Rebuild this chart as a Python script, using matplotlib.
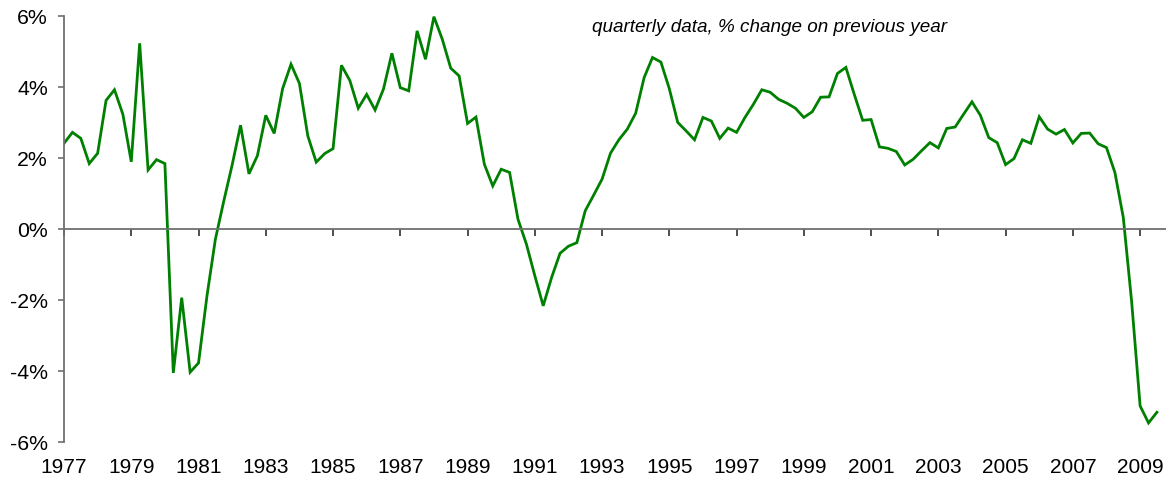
import numpy as np
import matplotlib
matplotlib.use("Agg")
import matplotlib.pyplot as plt

# quarterly data, % change on previous year, 1977Q1 .. 2009Q3
start_year = 1977
growth = [2.41, 2.72, 2.55, 1.84, 2.13, 3.62, 3.92, 3.23, 1.89, 5.23,
          1.66, 1.95, 1.84, -4.06, -1.94, -4.04, -3.78, -1.90, -0.30, 0.78,
          1.80, 2.92, 1.55, 2.06, 3.20, 2.69, 3.95, 4.64, 4.10, 2.62,
          1.88, 2.12, 2.26, 4.61, 4.18, 3.40, 3.79, 3.35, 3.94, 4.95,
          3.98, 3.89, 5.58, 4.78, 5.98, 5.34, 4.53, 4.31, 2.97, 3.15,
          1.82, 1.21, 1.68, 1.59, 0.27, -0.43, -1.32, -2.17, -1.37, -0.69,
          -0.49, -0.39, 0.51, 0.95, 1.40, 2.13, 2.51, 2.81, 3.26, 4.26,
          4.83, 4.70, 3.95, 3.00, 2.76, 2.51, 3.14, 3.04, 2.55, 2.84,
          2.72, 3.14, 3.51, 3.92, 3.85, 3.65, 3.54, 3.40, 3.14, 3.30,
          3.71, 3.72, 4.38, 4.55, 3.79, 3.06, 3.08, 2.31, 2.27, 2.18,
          1.80, 1.96, 2.20, 2.43, 2.28, 2.83, 2.87, 3.23, 3.58, 3.20,
          2.57, 2.43, 1.81, 1.98, 2.51, 2.41, 3.16, 2.81, 2.67, 2.80,
          2.42, 2.69, 2.70, 2.40, 2.29, 1.59, 0.32, -2.07, -4.99, -5.47,
          -5.17]
x_ticks = list(range(1977, 2010, 2))
y_ticks = [-6, -4, -2, 0, 2, 4, 6]
note = "quarterly data, % change on previous year"

t = start_year + np.arange(len(growth)) * 0.25

plt.rcParams['font.family'] = ['Liberation Sans', 'DejaVu Sans']

fig = plt.figure(figsize=(11.66, 4.85), dpi=100)
ax = fig.add_axes([0.0549, 0.0872, 0.9451, 0.8778])

ax.plot(t, growth, color='#008000', lw=2.0, solid_joinstyle='miter')

ax.set_xlim(1977, 2009.77)
ax.set_ylim(-6, 6)

# zero line carries the tick marks, labels sit below the plot
ax.spines['bottom'].set_position(('data', 0))
ax.spines['bottom'].set_color('#707070')
ax.spines['bottom'].set_linewidth(1.3)
ax.spines['left'].set_color('#707070')
ax.spines['left'].set_linewidth(1.3)
ax.spines['top'].set_visible(False)
ax.spines['right'].set_visible(False)

ax.set_xticks(x_ticks)
ax.tick_params(axis='x', direction='out', length=4.7, width=1.2,
               color='#303030', labelbottom=False)
ax.set_yticks(y_ticks)
ax.set_yticklabels(['%d%%' % v for v in y_ticks])
ax.tick_params(axis='y', direction='out', length=4.3, width=1.2,
               color='#707070', labelsize=15.3, pad=7.2)

sec = ax.secondary_xaxis('bottom')
sec.set_xticks(x_ticks)
sec.set_xticklabels([str(y) for y in x_ticks])
sec.spines['bottom'].set_visible(False)
sec.tick_params(length=0, labelsize=15, pad=11.3)

fig.text(0.66, 0.944, note, style='italic', fontsize=13.6,
         ha='center', va='center')

fig.savefig('out.png', dpi=100)
